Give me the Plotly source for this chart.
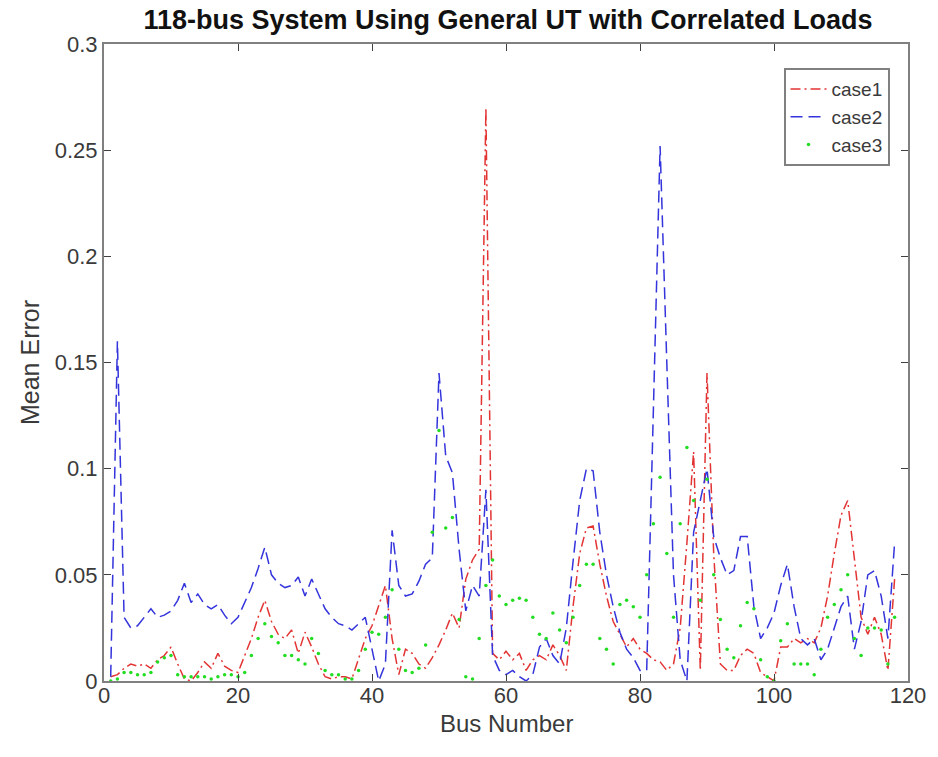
import plotly.graph_objects as go

bus = list(range(1, 119))

case1 = [0.002, 0.003, 0.006, 0.008, 0.007, 0.008, 0.006, 0.010, 0.012, 0.016,
         0.008, 0.001, 0.000, 0.004, 0.009, 0.006, 0.013, 0.007, 0.005, 0.004,
         0.012, 0.020, 0.030, 0.038, 0.028, 0.022, 0.020, 0.024, 0.013, 0.023,
         0.016, 0.008, 0.002, 0.001, 0.002, 0.002, 0.001, 0.010, 0.020, 0.026,
         0.036, 0.045, 0.020, 0.003, 0.015, 0.013, 0.008, 0.006, 0.011, 0.017,
         0.024, 0.032, 0.025, 0.048, 0.057, 0.062, 0.270, 0.013, 0.010, 0.014,
         0.010, 0.013, 0.005, 0.010, 0.012, 0.010, 0.017, 0.012, 0.005, 0.035,
         0.060, 0.072, 0.073, 0.055, 0.040, 0.028, 0.022, 0.016, 0.020, 0.015,
         0.013, 0.010, 0.009, 0.005, 0.008, 0.025, 0.065, 0.108, 0.005, 0.145,
         0.060, 0.008, 0.005, 0.005, 0.012, 0.015, 0.013, 0.004, 0.002, 0.000,
         0.016, 0.016, 0.020, 0.018, 0.020, 0.018, 0.025, 0.040, 0.060, 0.078,
         0.085, 0.058, 0.030, 0.022, 0.030, 0.022, 0.005, 0.048]

case2 = [0.002, 0.160, 0.030, 0.025, 0.026, 0.030, 0.034, 0.030, 0.031, 0.033,
         0.038, 0.046, 0.037, 0.041, 0.036, 0.034, 0.036, 0.031, 0.027, 0.030,
         0.037, 0.044, 0.053, 0.063, 0.050, 0.046, 0.044, 0.045, 0.049, 0.040,
         0.048, 0.041, 0.034, 0.030, 0.027, 0.026, 0.024, 0.027, 0.030, 0.015,
         0.000, 0.008, 0.071, 0.045, 0.040, 0.041, 0.047, 0.055, 0.058, 0.145,
         0.106, 0.098, 0.062, 0.033, 0.045, 0.040, 0.090, 0.012, 0.005, 0.003,
         0.005, 0.002, 0.000, 0.003, 0.016, 0.020, 0.012, 0.008, 0.025, 0.056,
         0.085, 0.100, 0.099, 0.070, 0.050, 0.035, 0.023, 0.015, 0.011, 0.005,
         0.005, 0.128, 0.252, 0.150, 0.050, 0.010, 0.000, 0.070, 0.085, 0.100,
         0.068, 0.058, 0.050, 0.052, 0.068, 0.068, 0.035, 0.020, 0.025, 0.032,
         0.045, 0.055, 0.035, 0.020, 0.017, 0.020, 0.010, 0.015, 0.025, 0.035,
         0.040, 0.015, 0.028, 0.050, 0.052, 0.040, 0.020, 0.065]

case3 = [0.000, 0.001, 0.004, 0.004, 0.003, 0.003, 0.004, 0.009, 0.011, 0.012,
         0.003, 0.002, 0.002, 0.002, 0.002, 0.001, 0.002, 0.003, 0.003, 0.002,
         0.004, 0.012, 0.020, 0.027, 0.021, 0.018, 0.012, 0.012, 0.010, 0.008,
         0.020, 0.013, 0.005, 0.003, 0.003, 0.001, 0.001, 0.005, 0.015, 0.023,
         0.022, 0.030, 0.043, 0.015, 0.005, 0.004, 0.006, 0.017, 0.070, 0.118,
         0.072, 0.077, 0.029, 0.002, 0.001, 0.020, 0.045, 0.057, 0.040, 0.036,
         0.038, 0.039, 0.038, 0.030, 0.022, 0.020, 0.032, 0.024, 0.018, 0.030,
         0.045, 0.055, 0.055, 0.020, 0.015, 0.008, 0.036, 0.038, 0.035, 0.030,
         0.050, 0.074, 0.096, 0.060, 0.030, 0.074, 0.110, 0.085, 0.038, 0.095,
         0.050, 0.029, 0.015, 0.011, 0.026, 0.037, 0.034, 0.010, 0.002, 0.000,
         0.019, 0.027, 0.008, 0.008, 0.008, 0.003, 0.015, 0.030, 0.036, 0.043,
         0.050, 0.020, 0.012, 0.025, 0.025, 0.024, 0.008, 0.030]

x_ticks = [0, 20, 40, 60, 80, 100, 120]
y_ticks = [0, 0.05, 0.1, 0.15, 0.2, 0.25, 0.3]
y_tick_labels = ["0", "0.05", "0.1", "0.15", "0.2", "0.25", "0.3"]

FONT = "Liberation Sans, Arial, sans-serif"

fig = go.Figure()
fig.add_trace(go.Scatter(x=bus, y=case1, mode="lines", name="case1",
                         line=dict(color="#e33434", width=1.5, dash="10px,4px,2px,4px")))
fig.add_trace(go.Scatter(x=bus, y=case2, mode="lines", name="case2",
                         line=dict(color="#3434dc", width=1.5, dash="12px,6px")))
fig.add_trace(go.Scatter(x=bus, y=case3, mode="markers", name="case3",
                         marker=dict(color="#22dd22", size=3.5)))

axis_common = dict(
    showline=True, linecolor="#808080", linewidth=2, mirror="ticks",
    ticks="inside", ticklen=7, tickwidth=1, tickcolor="#404040",
    showgrid=False, zeroline=False,
    tickfont=dict(family=FONT, size=22, color="#3a3a3a"),
)

fig.update_layout(
    width=938, height=757,
    margin=dict(l=104, r=26, t=44, b=76),
    paper_bgcolor="white", plot_bgcolor="white",
    title=dict(text="<b>118-bus System Using General UT with Correlated Loads</b>",
               x=(104 + 808 / 2) / 938, xanchor="center", y=1 - 20 / 757, yanchor="middle",
               font=dict(family=FONT, size=27, color="#111111")),
    xaxis=dict(range=[0, 120], tickvals=x_ticks, ticklabelstandoff=-6, **axis_common),
    yaxis=dict(range=[0, 0.3], tickvals=y_ticks, ticktext=y_tick_labels,
               title=dict(text="Mean Error", font=dict(family=FONT, size=25, color="#3a3a3a"), standoff=8),
               **axis_common),
    legend=dict(x=0.977, y=0.962, xanchor="right", yanchor="top",
                bgcolor="white", bordercolor="#808080", borderwidth=2,
                font=dict(family=FONT, size=19, color="#3a3a3a"),
                itemwidth=36, tracegroupgap=0),
    showlegend=True,
    annotations=[dict(text="Bus Number", xref="paper", yref="paper",
                      x=0.5, y=-(723 - 681) / 637, xanchor="center", yanchor="middle",
                      showarrow=False, font=dict(family=FONT, size=24, color="#3a3a3a"))],
)

fig.write_html("out.html")
